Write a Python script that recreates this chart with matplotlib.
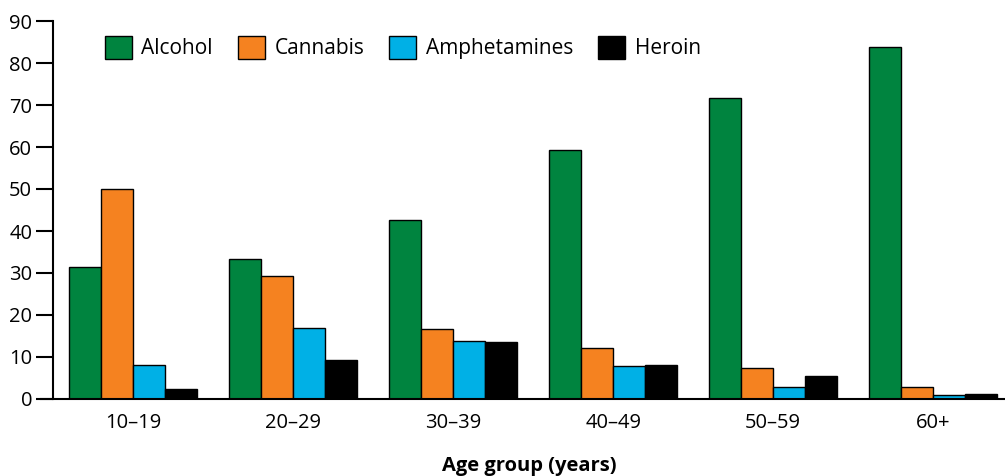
import numpy as np
import matplotlib.pyplot as plt
from matplotlib.patches import Patch

groups = ['10–19', '20–29', '30–39', '40–49', '50–59', '60+']
alcohol = [31.4, 33.4, 42.6, 59.4, 71.7, 83.7]
cannabis = [49.9, 29.4, 16.7, 12.2, 7.4, 2.8]
amphetamines = [8.2, 17.0, 13.8, 7.9, 2.8, 0.9]
heroin = [2.4, 9.2, 13.5, 8.2, 5.4, 1.1]

series = [('Alcohol', alcohol, '#00843f'),
          ('Cannabis', cannabis, '#f58220'),
          ('Amphetamines', amphetamines, '#00b0e6'),
          ('Heroin', heroin, '#000000')]

plt.rcParams['font.family'] = ['Open Sans', 'DejaVu Sans']

fig = plt.figure(figsize=(10.05, 4.76), dpi=100)
ax = fig.add_axes([53/1005, 77/476, 1 - 53/1005, 378/476])

x = np.arange(len(groups))
w = 0.2
for i, (name, vals, col) in enumerate(series):
    ax.bar(x - 0.3 + i*w, vals, w, color=col, edgecolor='black', linewidth=1, label=name)

ax.set_xlim(-0.503, 5.45)
ax.set_ylim(0, 90)
ax.set_yticks(range(0, 91, 10))
ax.set_xticks(x)
ax.set_xticklabels(groups)
ax.tick_params(axis='y', length=12, width=1.5, labelsize=14.5, pad=3)
ax.tick_params(axis='x', length=0, labelsize=14.5, pad=10)
for s in ['top', 'right']:
    ax.spines[s].set_visible(False)
ax.spines['left'].set_linewidth(1.5)
ax.spines['bottom'].set_linewidth(1.5)
ax.spines['bottom'].set_bounds(-0.578, 5.45)
ax.spines['bottom'].set_position(('data', 0))

ax.set_xlabel('Age group (years)', fontsize=14.5, fontweight='bold', labelpad=17)

handles = [Patch(facecolor=c, edgecolor='black', linewidth=1) for _, _, c in series]
ax.legend(handles, [n for n, _, _ in series], ncol=4, frameon=False,
          loc='upper left', bbox_to_anchor=(105/1005, 1 - 36/476),
          bbox_transform=fig.transFigure, fontsize=15,
          handlelength=1.3, handleheight=1.3, handletextpad=0.45,
          columnspacing=1.2, borderpad=0, borderaxespad=0)

fig.savefig('out.png', dpi=100)
